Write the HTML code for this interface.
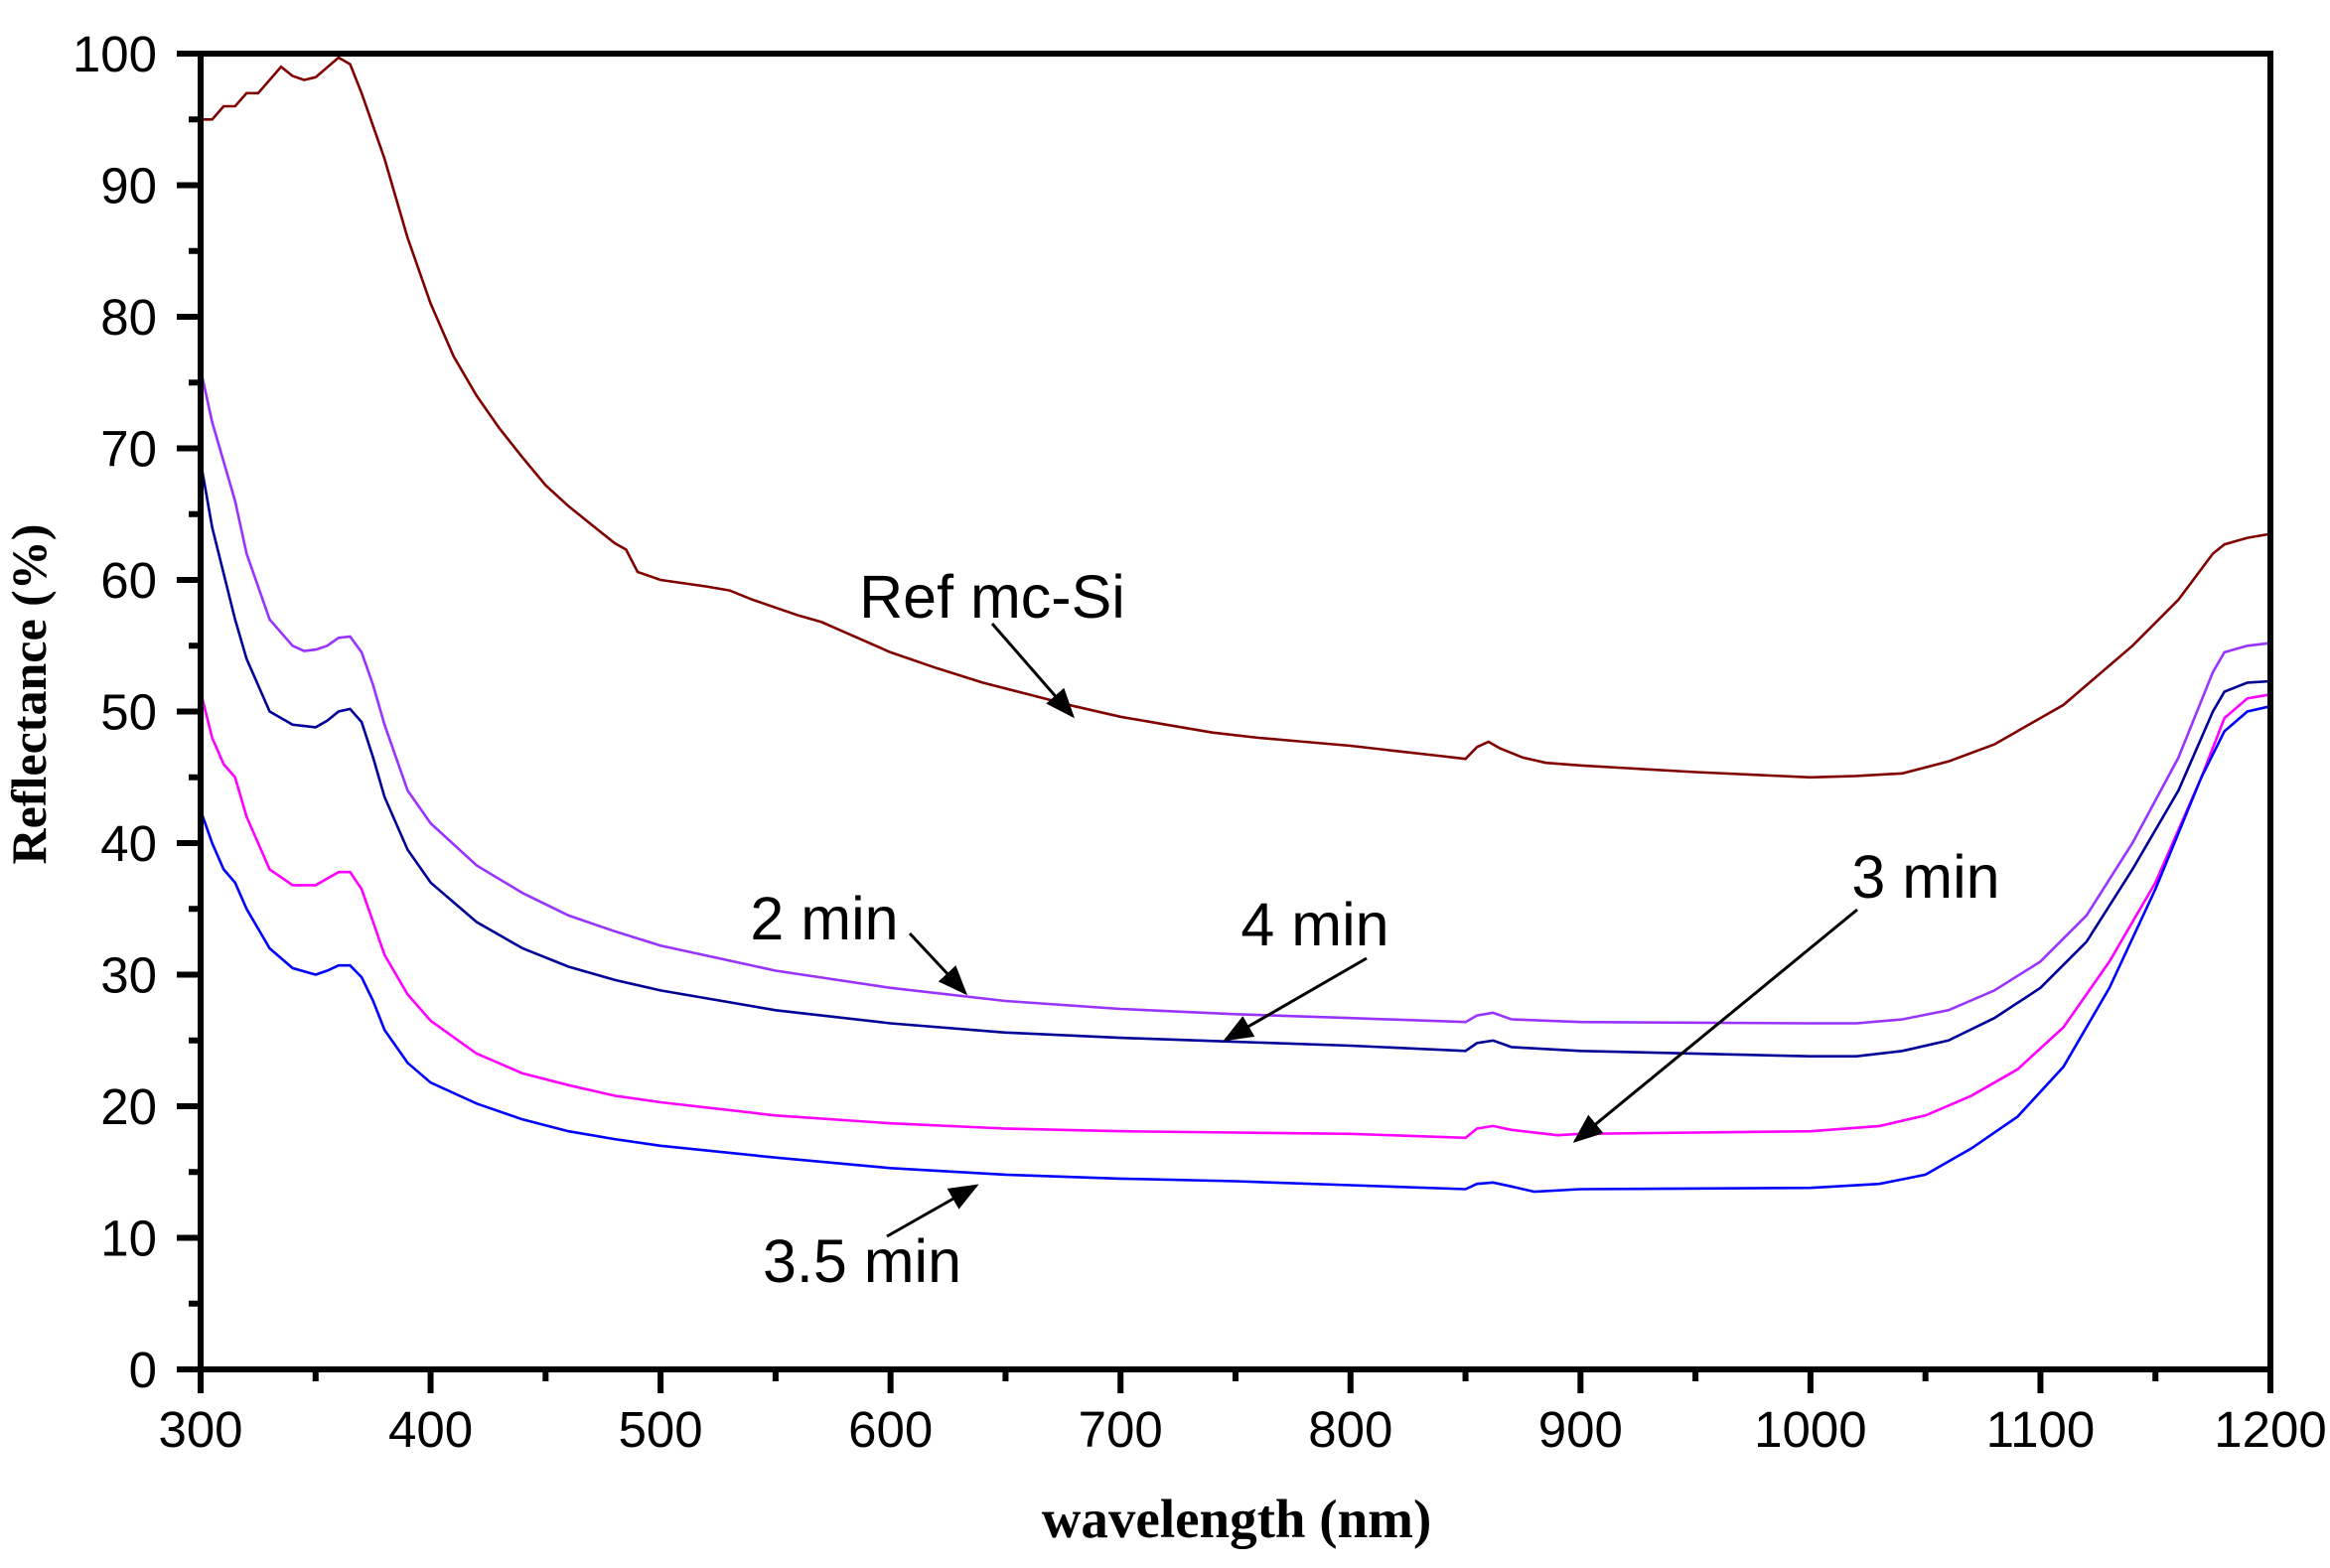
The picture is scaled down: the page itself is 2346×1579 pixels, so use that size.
<!DOCTYPE html>
<html><head><meta charset="utf-8"><style>
html,body{margin:0;padding:0;background:#fff;}
svg{display:block;}
</style></head><body>
<svg id="chart" width="2346" height="1579" viewBox="0 0 2346 1579" xmlns="http://www.w3.org/2000/svg">
<defs><marker id="ah" markerWidth="10" markerHeight="8" refX="9" refY="4" orient="auto" markerUnits="strokeWidth"><path d="M0,0 L10,4 L0,8 z" fill="#000"/></marker></defs>
<g id="series"></g>
<g id="axes"></g>
<text transform="translate(46,699) rotate(-90)" text-anchor="middle" font-family="Liberation Serif, serif" font-weight="bold" font-size="50">Reflectance (%)</text>
<text x="1245" y="1548" text-anchor="middle" font-family="Liberation Serif, serif" font-weight="bold" font-size="55">wavelength (nm)</text>
<g font-family="Liberation Sans, sans-serif" font-size="61" fill="#000">
<text x="999" y="622" text-anchor="middle">Ref mc-Si</text>
<text x="830" y="946" text-anchor="middle">2 min</text>
<text x="1324" y="952" text-anchor="middle">4 min</text>
<text x="1939" y="904" text-anchor="middle">3 min</text>
<text x="868" y="1291" text-anchor="middle">3.5 min</text>
</g>
<g stroke="#000" stroke-width="3" fill="none">
<line x1="999" y1="628" x2="1080" y2="721" marker-end="url(#ah)"/>
<line x1="916" y1="940" x2="972" y2="1000" marker-end="url(#ah)"/>
<line x1="1376" y1="965" x2="1234" y2="1047" marker-end="url(#ah)"/>
<line x1="1870" y1="916" x2="1586" y2="1149" marker-end="url(#ah)"/>
<line x1="893" y1="1245" x2="983" y2="1194" marker-end="url(#ah)"/>
</g>
</svg>
<script>
const xTicks=[300,400,500,600,700,800,900,1000,1100,1200];
const yTicks=[0,10,20,30,40,50,60,70,80,90,100];
const refX=[300,305,310,315,320,325,335,340,345,350,360,365,370,380,390,400,410,420,430,440,450,460,470,480,485,490,500,520,530,540,560,570,600,620,640,660,680,700,720,740,760,780,800,820,840,850,855,860,865,875,885,900,920,950,1000,1020,1040,1060,1080,1100,1110,1120,1140,1160,1175,1180,1190,1200];
const refY=[95,95,96,96,97,97,99,98.3,98,98.2,99.7,99.2,97,92,86,81,77,74,71.5,69.3,67.2,65.6,64.2,62.8,62.3,60.6,60,59.5,59.2,58.5,57.3,56.8,54.5,53.3,52.2,51.3,50.4,49.6,49,48.4,48,47.7,47.4,47,46.6,46.4,47.3,47.7,47.2,46.5,46.1,45.9,45.7,45.4,45,45.1,45.3,46.2,47.5,49.5,50.5,52,55,58.5,62,62.7,63.2,63.5];
const m2X=[300,305,315,320,330,340,345,350,355,360,365,370,375,380,390,400,420,440,460,480,500,550,600,650,700,750,800,850,855,862,870,900,1000,1020,1040,1060,1080,1100,1120,1140,1160,1175,1180,1190,1200];
const m2Y=[76,72,66,62,57,55,54.6,54.7,55,55.6,55.7,54.5,52,49,44,41.5,38.3,36.2,34.5,33.3,32.2,30.3,29,28,27.4,27,26.7,26.4,26.9,27.1,26.6,26.4,26.3,26.3,26.6,27.3,28.8,31,34.5,40,46.5,53,54.5,55,55.2];
const m4X=m2X;
const m4Y=[69,64,57,54,50,49,48.9,48.8,49.3,50,50.2,49.2,46.5,43.5,39.5,37,34,32,30.6,29.6,28.8,27.3,26.3,25.6,25.2,24.9,24.6,24.2,24.8,25,24.5,24.2,23.8,23.8,24.2,25,26.7,29,32.5,38,44,50,51.5,52.2,52.3];
const m3X=[300,305,310,315,320,330,340,350,355,360,365,370,375,380,390,400,420,440,460,480,500,550,600,650,700,750,800,850,855,862,870,890,900,1000,1030,1050,1070,1090,1110,1130,1150,1170,1180,1190,1200];
const m3Y=[51.5,48,46,45,42,38,36.8,36.8,37.3,37.8,37.8,36.5,34,31.5,28.5,26.5,24,22.5,21.6,20.8,20.3,19.3,18.7,18.3,18.1,18,17.9,17.6,18.3,18.5,18.2,17.8,17.9,18.1,18.5,19.3,20.8,22.8,26,31,37,45,49.5,51,51.3];
const m35X=[300,305,310,315,320,330,340,350,355,360,365,370,375,380,390,400,420,440,460,480,500,550,600,650,700,750,800,850,855,862,870,880,900,1000,1030,1050,1070,1090,1110,1130,1150,1170,1180,1190,1200];
const m35Y=[42.5,40,38,37,35,32,30.5,30,30.3,30.7,30.7,29.8,28,25.8,23.3,21.8,20.2,19,18.1,17.5,17,16.1,15.3,14.8,14.5,14.3,14,13.7,14.1,14.2,13.9,13.5,13.7,13.8,14.1,14.8,16.8,19.2,23,29,36.5,45,48.5,50,50.4];

const L=202,R=2286,T=54,B=1379;
function sx(v){return L+(v-300)*(R-L)/900;}
function sy(v){return B-v*(B-T)/100;}
const NS="http://www.w3.org/2000/svg";
const sg=document.getElementById('series');
function line(xs,ys,color,name){
  const p=document.createElementNS(NS,'path');
  p.setAttribute('d',xs.map((x,i)=>(i?'L':'M')+sx(x).toFixed(1)+','+sy(ys[i]).toFixed(1)).join(''));
  p.setAttribute('fill','none');p.setAttribute('stroke',color);p.setAttribute('stroke-width','2.6');
  
  
  sg.appendChild(p);
}
line(refX,refY,'#800000','series-ref-mc-si');
line(m2X,m2Y,'#9933ff','series-2min');
line(m4X,m4Y,'#000099','series-4min');
line(m3X,m3Y,'#ff00ff','series-3min');
line(m35X,m35Y,'#0000ff','series-3-5min');

const ag=document.getElementById('axes');
function el(tag,attrs,parent){const e=document.createElementNS(NS,tag);for(const k in attrs)e.setAttribute(k,attrs[k]);(parent||ag).appendChild(e);return e;}
const frame=el('rect',{x:L,y:T,width:R-L,height:B-T,fill:'none',stroke:'#000','stroke-width':6});


for(let v=300;v<=1200;v+=50){
  const major=v%100===0;
  const t=el('line',{x1:sx(v),x2:sx(v),y1:B,y2:B+(major?24:12),stroke:'#000','stroke-width':6});
  
  
}
xTicks.forEach(v=>{
  const t=el('text',{x:sx(v),y:1457,'text-anchor':'middle','font-family':'Liberation Sans, sans-serif','font-size':51});
  t.textContent=v;
  
  
});
for(let v=0;v<=100;v+=5){
  const major=v%10===0;
  const t=el('line',{x1:L,x2:L-(major?24:12),y1:sy(v),y2:sy(v),stroke:'#000','stroke-width':6});
  
  
}
yTicks.forEach(v=>{
  const t=el('text',{x:158,y:sy(v)+18,'text-anchor':'end','font-family':'Liberation Sans, sans-serif','font-size':51});
  t.textContent=v;
  
  
});
</script>
</body></html>
